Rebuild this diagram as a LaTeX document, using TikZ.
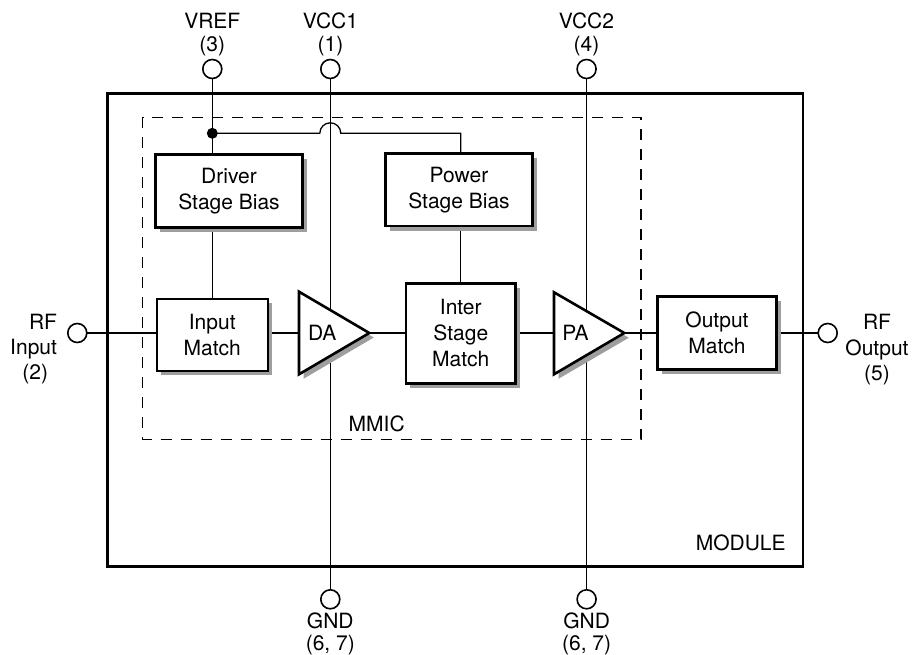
\documentclass[tikz,border=0pt]{standalone}
\usepackage{fontspec}
\setmainfont{TeX Gyre Heros}
\usetikzlibrary{shadows}
\pgfdeclarelayer{background}
\pgfsetlayers{background,main}
\definecolor{shadowgray}{gray}{0.62}
\begin{document}
\begin{tikzpicture}[x=1pt,y=-1pt,
  every node/.style={font=\fontsize{21}{26}\selectfont, inner sep=0pt, outer sep=0pt},
  blk/.style={draw, line width=2.6pt, fill=white, align=center,
    drop shadow={shadow xshift=4.5pt, shadow yshift=-4.5pt, fill=shadowgray, opacity=1}},
  amp/.style={draw, line width=2.6pt, fill=white},
  ampshadow/.style={fill=shadowgray},
  wire/.style={line width=1.3pt},
  pin/.style={circle, draw, line width=1.6pt, fill=white, minimum size=19pt},
  lbl/.style={align=center, font=\fontsize{21}{22.8}\selectfont}
]
\useasboundingbox (0,0) rectangle (914,655);

% blocks
\node[blk, minimum width=146.6pt, minimum height=73pt] (dsb) at (229,191.2) {Driver\\Stage Bias};
\node[blk, minimum width=146.6pt, minimum height=72.7pt] (psb) at (459,189.7) {Power\\Stage Bias};
\node[blk, minimum width=111pt, minimum height=72pt] (im) at (212.3,335) {Input\\Match};
\node[blk, minimum width=109.7pt, minimum height=100pt] (ism) at (460.8,333.3) {Inter\\Stage\\Match};
\node[blk, minimum width=119.4pt, minimum height=72.6pt] (om) at (717,333) {Output\\Match};

% amplifiers
\coordinate (dain) at (299,333);
\coordinate (daout) at (369.3,333);
\coordinate (pain) at (554,333);
\coordinate (paout) at (624.3,333);
\fill[ampshadow] (303.5,296.2) -- (373.8,337.5) -- (303.5,378.8) -- cycle;
\draw[amp] (299,291.7) -- (daout) -- (299,374.3) -- cycle;
\node (da) at (322.3,333) {DA};
\fill[ampshadow] (558.5,296.8) -- (628.8,337.8) -- (558.5,378.8) -- cycle;
\draw[amp] (554,292.3) -- (paout) -- (554,374.3) -- cycle;
\node (pa) at (575.5,333) {PA};

% pins
\node[pin] (vref) at (212.3,69) {};
\node[pin] (vcc1) at (330.3,69) {};
\node[pin] (vcc2) at (586.6,69) {};
\node[pin] (gnd1) at (330.3,599.3) {};
\node[pin] (gnd2) at (586.6,599.3) {};
\node[pin] (rfin) at (77.3,333) {};
\node[pin] (rfout) at (827.7,333) {};

% labels
\node[lbl] (lvref) at (212.3,34.3) {VREF\\(3)};
\node[lbl] (lvcc1) at (330.5,34.3) {VCC1\\(1)};
\node[lbl] (lvcc2) at (586.5,34.3) {VCC2\\(4)};
\node[lbl, font=\fontsize{21}{22}\selectfont] (lgnd1) at (330.3,634.3) {GND\\(6, 7)};
\node[lbl, font=\fontsize{21}{22}\selectfont] (lgnd2) at (586.6,634.3) {GND\\(6, 7)};
\node[align=right, font=\fontsize{21}{25}\selectfont, anchor=east] (lrfin) at (57,348.9) {RF\\Input\\(2)\hspace*{9pt}};
\node[align=center, font=\fontsize{21}{25.8}\selectfont] (lrfout) at (877,349.7) {RF\\Output\\(5)};
\node (lmmic) at (376.7,424) {MMIC};
\node (lmodule) at (740.7,543) {MODULE};

\begin{pgfonlayer}{background}
\draw[line width=2.6pt] (107.3,93.3) rectangle (803,566.4);
\draw[wire, dash pattern=on 11pt off 9pt] (142.7,117.3) rectangle (641,439.3);
\draw[wire] (vcc1) -- (gnd1);
\draw[wire] (vcc2) -- (gnd2);
\coordinate (jn) at (212.3,133.3);
\draw[wire] (vref) -- (vref |- dsb.north);
\draw[wire] (dsb.south -| im.north) -- (im.north);
\draw[wire] (jn) -- (319.8,133.3) arc[start angle=180,end angle=360,radius=10.5]
  -- (ism.north |- jn) -- (psb.north -| ism.north);
\draw[wire] (psb.south -| ism.north) -- (ism.north);
\draw[wire] (rfin) -- (rfin -| im.west);
\draw[wire] (im.east |- dain) -- (dain);
\draw[wire] (daout) -- (daout -| ism.west);
\draw[wire] (ism.east |- pain) -- (pain);
\draw[wire] (paout) -- (paout -| om.west);
\draw[wire] (om.east |- rfout) -- (rfout);
\end{pgfonlayer}
\fill (jn) circle[radius=5.5];
\end{tikzpicture}
\end{document}
